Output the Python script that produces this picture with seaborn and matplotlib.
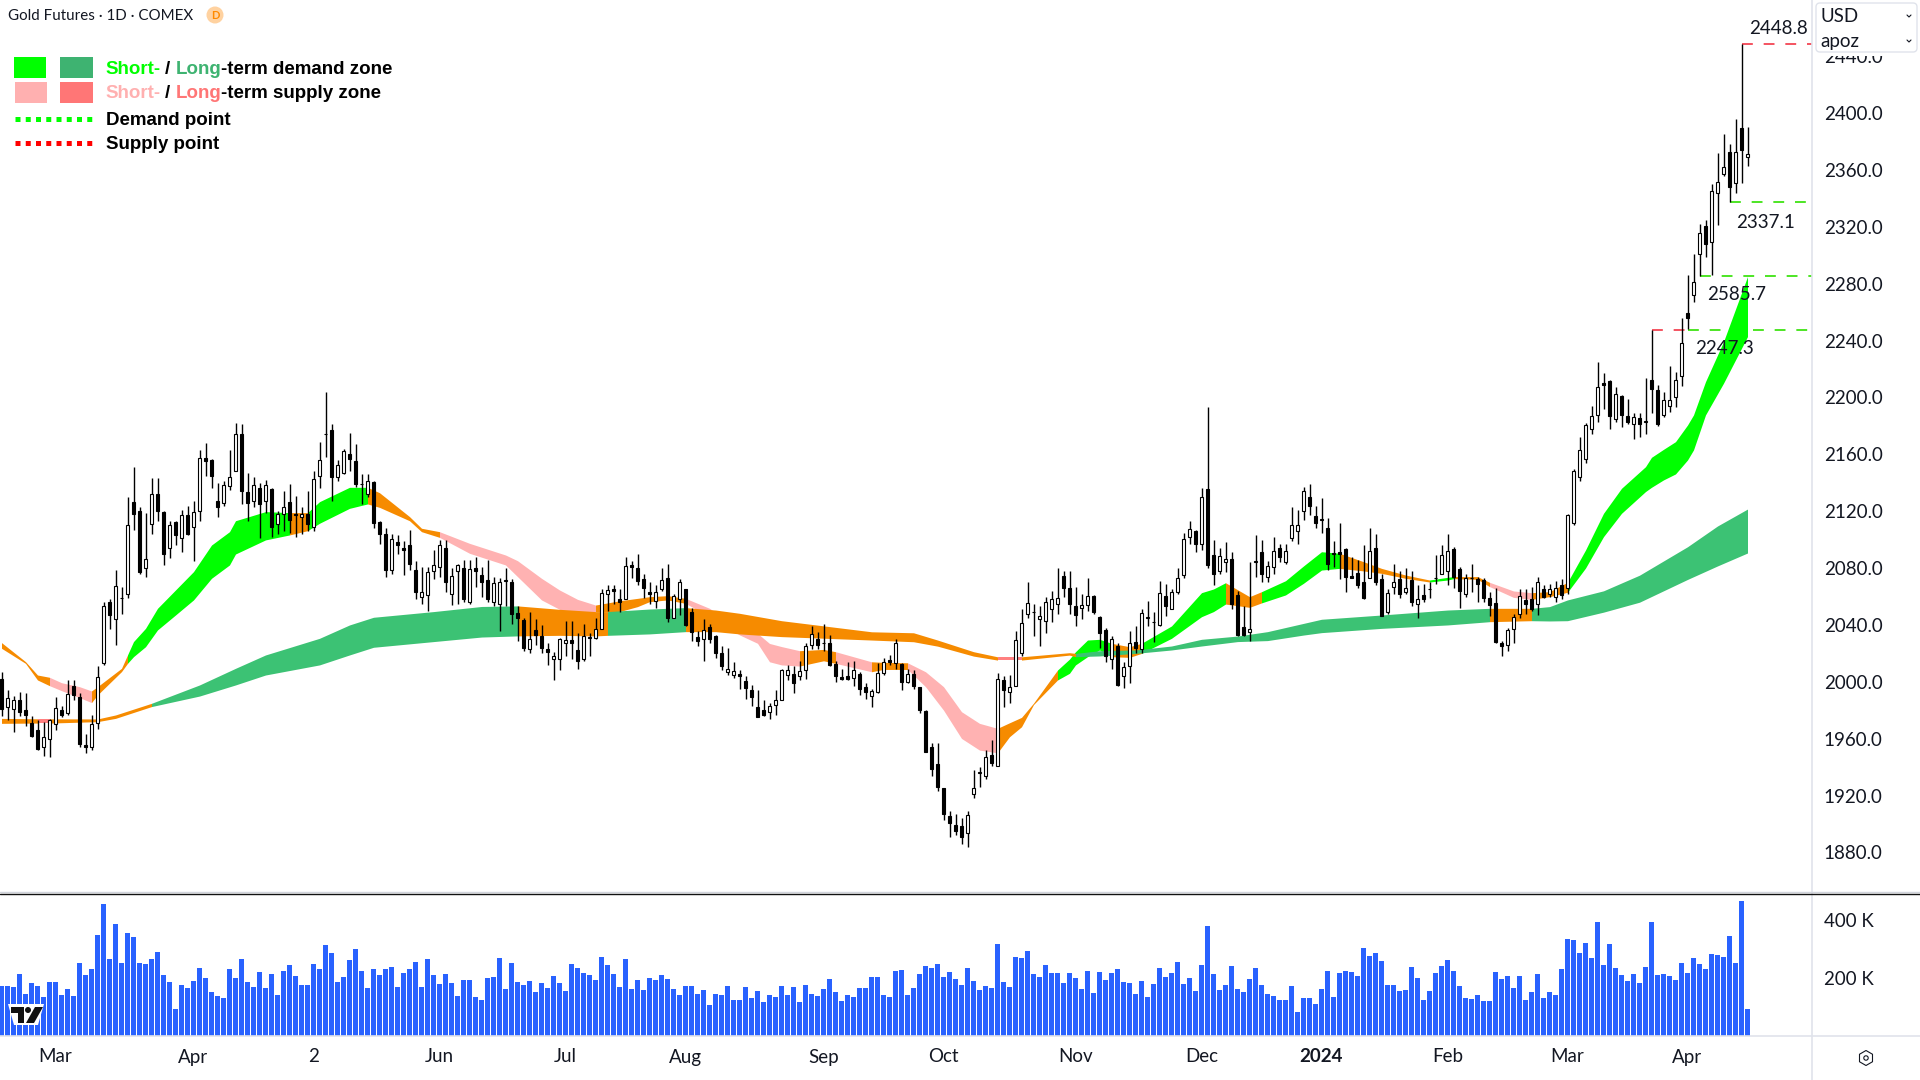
import numpy as np
import pandas as pd
import matplotlib.pyplot as plt
import seaborn as sns
from itertools import groupby
from matplotlib.patches import Rectangle, FancyBboxPatch, Circle, Polygon, RegularPolygon

# daily candles
open_px = [2002,1982,1981,1987,1980,1971,1966,1954,1960,1970,
1980,1978,1997,1989,1955,1954,1971,2013,2056,2044,
2059,2062,2126,2120,2080,2111,2132,2119,2094,2112,
2101,2117,2109,2120,2157,2156,2127,2126,2138,2148,
2174,2133,2127,2136,2127,2135,2111,2118,2126,2118,
2116,2118,2109,2145,2174,2177,2144,2147,2160,2155,
2139,2132,2140,2112,2104,2079,2098,2094,2096,2078,
2060,2061,2078,2081,2094,2062,2078,2080,2056,2080,
2075,2071,2056,2055,2071,2070,2048,2043,2023,2036,
2032,2023,2016,2016,2027,2029,2022,2016,2031,2031,
2037,2062,2065,2058,2058,2082,2080,2072,2063,2057,
2065,2073,2045,2058,2065,2049,2031,2030,2038,2032,
2020,2007,2005,2005,2000,1994,1982,1980,1979,1984,
1987,2005,2005,2004,2008,2026,2030,2027,2027,2012,
2003,2004,2003,2005,1996,1990,1993,2006,2015,2013,
2012,2000,2005,1996,1979,1954,1942,1925,1905,1899,
1898,1894,1921,1936,1934,1948,1941,2001,1993,1997,
2020,2048,2049,2044,2043,2051,2055,2074,2066,2053,
2052,2054,2060,2045,2036,2016,2025,2004,2011,2028,
2023,2045,2042,2040,2060,2051,2063,2075,2102,2106,
2097,2135,2089,2078,2084,2086,2061,2038,2035,2084,
2091,2074,2081,2094,2084,2101,2106,2120,2130,2116,
2114,2108,2090,2091,2093,2074,2076,2070,2073,2094,
2072,2049,2067,2072,2063,2071,2055,2061,2065,2073,
2076,2078,2093,2079,2062,2073,2072,2071,2059,2055,
2027,2026,2037,2048,2057,2058,2055,2065,2062,2060,
2068,2066,2112,2144,2157,2178,2188,2210,2211,2185,
2201,2187,2181,2185,2183,2212,2205,2188,2194,2200,
2215,2259,2272,2301,2320,2309,2344,2357,2372,2351,
2389,2369]

high_px = [2007,1994,1990,1993,1992,1976,1973,1972,1974,1989,
1983,2001,2001,1992,1963,1977,2011,2056,2058,2079,
2067,2130,2151,2123,2119,2143,2143,2120,2113,2113,
2121,2124,2127,2163,2168,2157,2140,2141,2163,2182,
2181,2147,2144,2140,2142,2136,2120,2134,2139,2131,
2123,2134,2148,2169,2204,2181,2156,2164,2175,2167,
2146,2146,2141,2113,2108,2104,2103,2099,2107,2085,
2081,2081,2093,2100,2100,2080,2083,2086,2086,2088,
2081,2086,2074,2073,2080,2072,2053,2045,2049,2044,
2040,2027,2021,2031,2043,2043,2034,2041,2034,2045,
2065,2068,2068,2065,2088,2085,2090,2076,2070,2068,
2080,2083,2062,2072,2065,2052,2036,2044,2041,2033,
2025,2024,2014,2008,2004,1998,1994,1987,1985,1994,
2009,2012,2011,2015,2027,2039,2035,2041,2033,2015,
2009,2014,2015,2007,1999,1995,2013,2017,2019,2030,
2013,2009,2008,1996,1980,1957,1957,1925,1909,1907,
1904,1909,1938,1940,1952,1959,2006,2004,2005,2036,
2051,2070,2055,2053,2060,2064,2080,2078,2078,2067,
2062,2073,2061,2046,2038,2032,2027,2014,2036,2039,
2051,2057,2049,2071,2069,2065,2080,2105,2113,2107,
2136,2193,2100,2094,2098,2091,2064,2053,2084,2103,
2100,2085,2102,2097,2097,2123,2121,2137,2139,2124,
2129,2115,2099,2112,2094,2088,2086,2096,2108,2104,
2076,2065,2083,2078,2080,2078,2068,2069,2070,2089,
2096,2104,2095,2081,2076,2083,2074,2073,2063,2066,
2029,2038,2048,2065,2065,2067,2074,2068,2069,2071,
2072,2118,2150,2172,2182,2194,2225,2217,2212,2207,
2202,2199,2189,2189,2214,2247.3,2209,2204,2222,2218,
2256,2286,2301,2322,2325,2350,2372,2385,2378,2396,
2448.8,2390]

low_px = [1976,1973,1965,1976,1969,1961,1952,1948,1947,1966,
1975,1977,1987,1954,1950,1952,1967,2012,2037,2026,
2048,2059,2107,2076,2074,2104,2113,2082,2087,2096,
2091,2103,2085,2113,2145,2136,2116,2124,2135,2148,
2125,2113,2123,2101,2119,2102,2104,2106,2105,2102,
2104,2106,2106,2136,2158,2127,2141,2146,2148,2137,
2125,2130,2108,2097,2074,2076,2090,2075,2079,2058,
2055,2050,2072,2074,2063,2054,2055,2056,2055,2067,
2060,2056,2053,2036,2053,2041,2029,2022,2020,2026,
2020,2012,2001,2008,2018,2016,2009,2015,2018,2030,
2037,2050,2055,2049,2058,2073,2068,2059,2055,2052,
2064,2042,2045,2047,2039,2029,2025,2015,2027,2017,
2008,2005,2003,1995,1988,1983,1975,1976,1974,1977,
1987,2001,1992,2001,2002,2023,2023,2022,2011,2000,
2001,2001,1997,1991,1988,1982,1992,2005,2012,2009,
1994,1999,1995,1978,1951,1934,1923,1903,1891,1892,
1886,1884,1918,1926,1932,1941,1941,1982,1985,1997,
2018,2045,2032,2025,2034,2042,2048,2060,2048,2039,
2044,2050,2048,2024,2014,2009,1997,1996,1999,2020,
2020,2039,2028,2039,2046,2051,2062,2073,2097,2091,
2093,2080,2068,2076,2077,2051,2032,2032,2029,2074,
2070,2070,2076,2084,2083,2099,2097,2114,2117,2108,
2105,2079,2081,2072,2063,2073,2066,2058,2073,2068,
2046,2048,2062,2059,2062,2053,2045,2056,2059,2069,
2076,2068,2066,2052,2060,2063,2056,2056,2046,2027,
2018,2022,2027,2045,2048,2050,2047,2059,2060,2056,
2058,2062,2110,2141,2154,2174,2183,2192,2178,2183,
2179,2181,2171,2172,2174,2189,2180,2186,2190,2193,
2208,2248,2267,2285.7,2299,2286,2321,2356,2337.1,2344,
2351,2363]

close_px = [1981,1988,1987,1979,1977,1962,1953,1961,1973,1981,
1977,1991,1991,1956,1954,1970,2003,2053,2047,2067,
2059,2110,2118,2077,2086,2132,2120,2090,2110,2103,
2117,2104,2119,2157,2155,2145,2123,2138,2144,2174,
2134,2126,2138,2125,2138,2109,2118,2123,2114,2117,
2118,2111,2142,2156,2174,2144,2152,2162,2157,2139,
2139,2141,2112,2104,2079,2100,2096,2093,2083,2063,
2063,2077,2082,2096,2070,2074,2082,2058,2079,2078,
2070,2058,2069,2070,2071,2048,2045,2024,2030,2033,
2024,2021,2018,2030,2029,2027,2015,2032,2031,2037,
2062,2064,2064,2056,2081,2081,2071,2066,2062,2063,
2071,2045,2060,2070,2040,2035,2029,2036,2030,2020,
2011,2009,2007,2004,1996,1989,1975,1977,1983,1987,
2008,2008,1999,2007,2025,2033,2026,2027,2012,2004,
2002,2002,2008,1995,1993,1993,2006,2014,2014,2027,
2000,2005,1997,1980,1951,1939,1926,1907,1901,1895,
1891,1906,1925,1936,1947,1943,2002,1994,1996,2029,
2041,2055,2049,2046,2056,2058,2059,2066,2055,2047,
2054,2060,2049,2034,2018,2030,1998,2010,2027,2024,
2048,2045,2042,2062,2053,2063,2073,2100,2107,2097,
2130,2082,2076,2088,2086,2055,2033,2033,2037,2085,
2076,2081,2092,2088,2092,2110,2110,2134,2124,2112,
2114,2083,2090,2090,2074,2073,2068,2059,2092,2070,
2046,2062,2070,2062,2066,2056,2058,2058,2065,2073,
2089,2092,2074,2064,2073,2073,2069,2059,2054,2028,
2025,2036,2045,2060,2055,2051,2070,2060,2065,2066,
2061,2117,2148,2163,2180,2187,2207,2209,2187,2202,
2188,2183,2186,2181,2183,2206,2181,2198,2198,2212,
2238,2256,2281,2315,2308,2345,2351,2362,2348,2372,
2374,2371]

# volume in thousands
volume = [172,172,169,214,145,183,172,135,186,186,141,162,138,252,210,231,348,455,266,386,
252,355,342,252,248,266,290,210,186,93,176,166,190,235,200,152,138,131,231,200,
266,186,169,221,166,214,141,224,245,207,176,176,248,231,314,286,186,204,262,300,
224,166,231,210,231,238,169,217,231,255,169,266,210,179,214,183,138,193,193,135,
124,200,204,269,162,252,186,176,190,152,183,166,207,183,155,248,235,217,210,193,
273,245,214,169,266,162,193,
159,200,193,210,197,162,141,172,172,145,159,107,145,141,172,124,124,169,131,155,
117,141,135,172,141,169,117,176,145,138,162,197,152,121,141,135,166,166,204,204,
141,135,224,228,141,166,214,241,235,248,204,221,197,176,235,190,159,172,166,317,
186,169,273,269,293,214,204,245,217,217,183,217,200,162,224,148,221,193,217,231,
186,183,145,190,135,179,235,204,217,255,179,200,155,245,
380,214,159,176,241,162,152,197,235,176,145,138,124,124,172,83,131,131,110,162,
224,135,217,224,221,207,304,276,286,259,176,176,155,159,238,200,124,155,217,241,
262,224,172,131,128,141,121,121,221,
197,207,166,207,124,152,214,131,152,141,231,335,331,286,321,269,393,245,317,235,
210,190,214,183,238,393,210,214,207,193,252,217,269,248,231,283,279,273,345,252,
466,93]

# short-term zone edges, knots at bar numbers; zone = colour of the stretch starting at that knot
# d demand, s supply, n neutral
short_idx = [0,4,6,8,10,13,15,16,20,21,22,24,26,29,32,35,38,39,44,48,51,53,58,61,63,68,70,73,78,84,86,90,93,96,99,
103,106,108,111,114,118,123,126,128,130,133,137,139,145,147,151,154,157,160,163,166,168,170,172,176,178,179,181,183,185,
188,190,195,200,202,204,208,210,214,217,220,223,227,230,234,238,241,242,246,248,252,255,258,261,264,267,270,274,275,277,279,
281,282,284,287,291]
short_top = [2027.6,2014.2,2004.8,2003.2,1999.4,1996.6,1993.6,1996.6,2009.5,2018.9,2028.3,2037.6,2051.7,2064.6,2077.5,2096.2,2105.6,2113.3,2119.7,2119,2119,2126.7,2136.8,2136.8,2133,2116.2,2108,2105.6,2097.4,2089.2,2085.2,2072.8,2064.6,2058,2054,
2057,2058.7,2059.9,2060.6,2058.7,2051.7,2037.7,2034.1,2027,2024.8,2021.9,2022.8,2021.2,2014.1,2013.7,2013.4,2007.1,1996.6,1979,1970.8,1967.3,1971.2,1975,1985,2008.3,2016,2021.2,2029.4,2029.9,2027.1,
2024.7,2027.1,2039.3,2062.7,2065.3,2069.7,2059.9,2063.4,2071.1,2081.5,2091.5,2090.4,2084.5,2079.8,2075.1,2071.6,2073.5,2074,2074,2070,2063.9,2062.7,2063.4,2070,2092.7,2118.5,2136.1,2151.3,2157.9,2163.5,2168.9,
2180.6,2187.7,2211.1,2239.2,2285]
short_bot = [2023.6,2013,2001.3,1997.3,1993.8,1988.9,1985.4,1990.8,2007.2,2013,2017.7,2024.7,2036.5,2047,2057.6,2072.8,2082.2,2089.9,2099.8,2103.3,2106.3,2111.5,2122,2125.1,2122.7,2113.3,2105.6,2101.6,2090.4,2082.2,2074,2057.6,2051,2047,2049.4,
2049.4,2052.9,2056.4,2057.6,2055.2,2045.9,2033,2027.1,2014.1,2011.9,2011.1,2014.8,2013,2007.1,2008.7,2008.7,1996.6,1980.1,1960.2,1952,1950.1,1961.4,1968.4,1984,2001.3,2006,2011.9,2017.7,2022.4,2017.7,
2017.2,2020,2030.6,2045.8,2049.4,2054.7,2052.4,2055.5,2061.1,2069.3,2078.6,2079.8,2078,2076.3,2072.8,2070.2,2071.6,2072.6,2072.1,2067,2059.4,2058,2059.9,2063,2080,2102.1,2118.5,2133.8,2136.8,2142,2146.2,
2156,2163.1,2187.7,2210,2242.8]
short_zone = ["n","n","n","s","s","s","n","n","n","d","d","d","d","d","d","d","d","d","d","n","d","d","d","n","n","n","n","s","s","s","s","s","s","s","n",
"n","n","n","n","s","s","s","s","s","s","n","n","s","n","n","s","s","s","s","s","n","n","n","n","d","d","d","d","d","n",
"n","d","d","d","d","n","n","d","d","d","d","n","n","n","n","d","d","n","n","s","s","n","n","d","d","d","d","d","d","d","d",
"d","d","d","d","d"]

# long-term zone edges
long_idx = [0,6,8,16,19,25,33,39,44,53,58,62,72,80,86,93,99,101,108,114,119,123,130,145,152,156,162,166,170,178,179,183,189,195,200,206,211,217,220,230,241,248,255,258,261,267,273,281,286,291]
long_top = [1974.3,1974,1974,1973.9,1976.7,1984.9,1997.8,2009.5,2018.9,2030.6,2040,2045.4,2049.4,2053,2053.4,2051,2049.4,2049.4,2051.2,2052.2,2050.5,2048.2,2043,2035.2,2034.5,2029.4,2021.2,2017.6,2017.6,2020.5,2020,2021.9,2022.4,2025.2,2029.9,2032.2,2035.3,2041.1,2044,2047,2050.5,2051.7,2051.7,2052.9,2057.6,2064,2075,2095,2109.6,2121.5]
long_bot = [1970.8,1971,1971,1972,1974.3,1982.6,1990,1997.8,2004.8,2011.9,2018.9,2024.3,2028.3,2031.5,2032.3,2032.7,2032.3,2032.7,2033.7,2035.3,2035.3,2033.7,2031.8,2029.4,2028.2,2025.1,2018.1,2015.3,2015.3,2018.8,2017.7,2018.2,2020,2022.4,2025.2,2028.3,2029,2032.9,2034.6,2037.6,2040,2042.3,2043,2042.8,2043,2049,2056,2072,2081.5,2090.6]
long_zone = ["n","s","n","n","n","d","d","d","d","d","d","d","d","d","n","n","n","d","d","n","n","n","n","n","n","n","n","s","n","n","d","d","d","d","d","d","d","d","d","d","d","n","d","d","d","d","d","d","d","d"]

supply_level = 2448.8
demand_levels = [2337.1, 2285.7, 2247.3]
demand_start = [288, 283, 281]
old_supply_span = [275, 280.5]

tick_bars = [9,32,52,73,94,114,137,157,179,200,220,241,261,281]
tick_names = ["Mar","Apr","2","Jun","Jul","Aug","Sep","Oct","Nov","Dec","2024","Feb","Mar","Apr"]
price_ticks = list(range(1880, 2441, 40))

zone_short = {"d": "#00ff00", "s": "#ffb2b2", "n": "#f68b00"}
zone_long = {"d": "#3cc274", "s": "#ff8080", "n": "#f68b00"}
ink = "#131722"
grid = "#e0e3eb"

sns.set_theme(style="white")
plt.rcParams["font.family"] = ["Lato", "DejaVu Sans"]

fig = plt.figure(figsize=(19.2, 10.8), dpi=100)
ax = fig.add_axes([0, 187/1080, 1812/1920, 893/1080])
ax_vol = fig.add_axes([0, 44/1080, 1812/1920, 143/1080])
ax_px = fig.add_axes([0, 0, 1, 1], zorder=10)
ax_px.set_xlim(0, 1920)
ax_px.set_ylim(1080, 0)
ax_px.axis("off")
ax_px.patch.set_alpha(0)

bars = np.arange(len(open_px))
o = np.array(open_px, dtype=float)
c = np.array(close_px, dtype=float)
xlim = (-0.25, 301.75)


def draw_zone(idx, top, bot, zone, colors, z):
    idx, top, bot = np.array(idx), np.array(top), np.array(bot)
    pos = 0
    for key, grp in groupby(zone[:-1]):
        n = len(list(grp))
        s = slice(pos, pos + n + 1)
        ax.fill_between(idx[s], bot[s], top[s], color=colors[key], lw=0, zorder=z)
        pos += n


# dashed levels go under the zones
dash = (0, (6.5, 6.5))
ax.plot([290, xlim[1]], [supply_level]*2, color="#f23645", lw=1.2, ls=dash, zorder=1.5)
ax.plot(old_supply_span, [demand_levels[2]]*2, color="#f23645", lw=1.2, ls=dash, zorder=1.5)
for lev, st in zip(demand_levels, demand_start):
    ax.plot([st, xlim[1]], [lev, lev], color="#2fe000", lw=1.2, ls=dash, zorder=1.5)

draw_zone(short_idx, short_top, short_bot, short_zone, zone_short, 2)
draw_zone(long_idx, long_top, long_bot, long_zone, zone_long, 2.2)

# candles
ax.vlines(bars, low_px, high_px, color="black", lw=1.0, zorder=3)
up = c >= o
ax.bar(bars, np.abs(c - o) + 0.3, bottom=np.minimum(o, c), width=0.58,
       color=np.where(up, "white", "black"), edgecolor="black", lw=0.8, zorder=3.2)

ax.set_xlim(*xlim)
ax.set_ylim(1851.5, 2479.5)
ax.set_xticks([])
ax.yaxis.tick_right()
ax.set_yticks(price_ticks)
ax.set_yticklabels([f"{p:.1f}" for p in price_ticks], fontsize=13.5, color=ink)
ax.tick_params(axis="y", length=0, pad=8.5)
sns.despine(ax=ax, left=True, right=True, top=True, bottom=True)

# volume pane
vol_df = pd.DataFrame({"bar": bars, "volume": volume})
sns.barplot(data=vol_df, x="bar", y="volume", native_scale=True, color="#2962ff",
            saturation=1, width=0.84, errorbar=None, linewidth=0, ax=ax_vol)
ax_vol.set_xlim(*xlim)
ax_vol.set_ylim(0, 493)
ax_vol.set_xlabel("")
ax_vol.set_ylabel("")
ax_vol.yaxis.tick_right()
ax_vol.set_yticks([200, 400])
ax_vol.set_yticklabels(["200 K", "400 K"], fontsize=13.5, color=ink)
ax_vol.set_xticks(tick_bars)
ax_vol.set_xticklabels(tick_names, fontsize=13.5, color=ink)
ax_vol.get_xticklabels()[tick_names.index("2024")].set_fontweight("bold")
ax_vol.tick_params(axis="both", length=0)
ax_vol.tick_params(axis="x", pad=9)
ax_vol.tick_params(axis="y", pad=8.5)
sns.despine(ax=ax_vol, left=True, right=True, top=True, bottom=True)

# pane lines
ax_px.plot([0, 1920], [1036, 1036], color=grid, lw=1.2)
ax_px.plot([1811.5, 1811.5], [0, 1080], color=grid, lw=1.2)
ax_px.plot([0, 1920], [892, 892], color="#d1d4dc", lw=1)
ax_px.plot([0, 1920], [893.5, 893.5], color="#111111", lw=1)

# header
ax_px.text(8, 16, "Gold Futures · 1D · COMEX", fontsize=10.9, color=ink, va="center")
ax_px.add_patch(Circle((215, 15), 8.5, fc="#ffd2a0", ec="none"))
ax_px.text(215, 15.5, "D", fontsize=8, color="#ff8a00", weight="bold", ha="center", va="center")

# USD box, its white margin covers the top of the 2440 label
ax_px.add_patch(Rectangle((1813, 50), 104, 5.5, fc="white", ec="none"))
ax_px.add_patch(FancyBboxPatch((1816, 3), 101, 49, boxstyle="round,pad=0,rounding_size=4",
                               fc="white", ec=grid, lw=1))
ax_px.text(1820, 17, "USD", fontsize=13.5, color=ink, va="center")
ax_px.text(1820, 41, "apoz", fontsize=13.5, color=ink, va="center")
for yy in (16, 41):
    ax_px.plot([1907, 1909, 1911], [yy-1, yy+1, yy-1], color=ink, lw=0.8)

# level labels
for txt, px, py in [("2448.8", 1778, 28), ("2337.1", 1766, 222), ("2585.7", 1737, 294), ("2247.3", 1724, 349)]:
    ax_px.text(px, py, txt, fontsize=13.5, color=ink, ha="center", va="center")

# legend
lime, leaf, pink, coral = "#00ff00", "#3eb371", "#ffb0b0", "#ff7676"
ax_px.add_patch(Rectangle((14, 57), 32, 21, fc=lime, ec="none"))
ax_px.add_patch(Rectangle((60, 57), 33, 21, fc=leaf, ec="none"))
ax_px.add_patch(Rectangle((15, 82), 32, 21, fc=pink, ec="none"))
ax_px.add_patch(Rectangle((60, 82), 33, 21, fc=coral, ec="none"))
ax_px.plot([15, 92], [119, 119], color=lime, lw=3.6, ls=(0, (1, 1.05)))
ax_px.plot([15, 92], [143, 143], color="#ff0000", lw=3.6, ls=(0, (1, 1.05)))

rend = fig.canvas.get_renderer()


def leg_row(x, y, parts):
    for txt, col, gap in parts:
        t = ax_px.text(x, y, txt, color=col, fontsize=13.5, family="Liberation Sans", weight="bold", va="center")
        x += t.get_window_extent(rend).width + gap


leg_row(105, 69, [("Short-", lime, 5), ("/", "black", 5), ("Long", leaf, 0), ("-term demand zone", "black", 0)])
leg_row(105, 94, [("Short-", pink, 5), ("/", "black", 5), ("Long", coral, 0), ("-term supply zone", "black", 0)])
leg_row(106, 120.5, [("Demand point", "black", 0)])
leg_row(106, 144.5, [("Supply point", "black", 0)])

# watermark
ax_px.add_patch(Polygon([(8, 1004), (44, 1004), (38, 1025), (14, 1025)], fc="white", ec="none"))
ax_px.add_patch(Polygon([(11, 1007), (24, 1007), (24, 1023), (18, 1023), (18, 1013), (11, 1013)], fc="#111111", ec="none"))
ax_px.add_patch(Circle((28, 1010), 3, fc="#111111", ec="none"))
ax_px.add_patch(Polygon([(35, 1007), (43, 1007), (34, 1023), (26, 1023)], fc="#111111", ec="none"))

# settings icon
ax_px.add_patch(RegularPolygon((1866, 1058), 6, radius=7.5, fc="none", ec=ink, lw=0.8))
ax_px.add_patch(Circle((1866, 1058), 2.2, fc="none", ec=ink, lw=0.8))

fig.savefig("out.png", dpi=100)
